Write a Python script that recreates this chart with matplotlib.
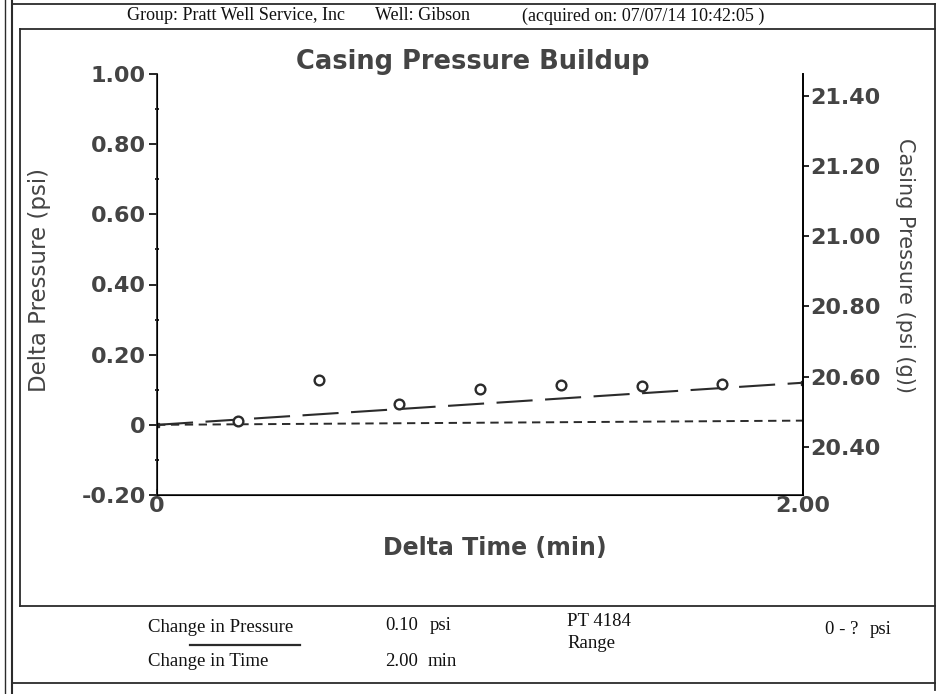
import matplotlib
matplotlib.use("Agg")
import matplotlib.pyplot as plt
from matplotlib.lines import Line2D

plt.rcParams['lines.scale_dashes'] = False

# data
delta_time = [0.25, 0.50, 0.75, 1.00, 1.25, 1.50, 1.75]
delta_pressure = [0.011, 0.127, 0.060, 0.103, 0.114, 0.111, 0.117]
trend_time = [0.0, 2.0]
trend_pressure = [0.0, 0.12]
base_time = [0.0, 2.0]
base_pressure = [0.0, 0.012]

left_ticks = [-0.20, 0, 0.20, 0.40, 0.60, 0.80, 1.00]
left_labels = ["-0.20", "0", "0.20", "0.40", "0.60", "0.80", "1.00"]
right_ticks = [20.40, 20.60, 20.80, 21.00, 21.20, 21.40]
start_pressure = 20.4625

ink = "#2b2b2b"
grey = "#444444"
W, H = 940, 694

fig = plt.figure(figsize=(9.4, 6.94), dpi=100)

def px(x, y):
    return x / W, 1 - y / H

def hline(x0, x1, y, lw=1.3):
    a = px(x0, y); b = px(x1, y)
    fig.add_artist(Line2D([a[0], b[0]], [a[1], b[1]], color=ink, lw=lw))

def vline(x, y0, y1, lw=1.3):
    a = px(x, y0); b = px(x, y1)
    fig.add_artist(Line2D([a[0], b[0]], [a[1], b[1]], color=ink, lw=lw))

# page frame
vline(5, 0, 694, 1.0)
vline(12, 0, 694, 1.5)
hline(12, 935, 4)
hline(20, 935, 29)
vline(20, 29, 606)
vline(935, 4, 690)
hline(20, 935, 606)
hline(12, 935, 683)

serif = "Liberation Serif"
hdr = dict(family=serif, fontsize=13, va="center", color="#111")
fig.text(*px(127, 16), "Group: Pratt Well Service, Inc", **hdr)
fig.text(*px(375, 16), "Well: Gibson", **hdr)
fig.text(*px(522, 16), "(acquired on: 07/07/14 10:42:05 )", **hdr)

ax = fig.add_axes([157 / W, 1 - 495 / H, (803 - 157) / W, (495 - 74) / H])
ax.plot(base_time, base_pressure, color=ink, lw=1.4, dashes=(6, 4))
ax.plot(trend_time, trend_pressure, color=ink, lw=1.5, dashes=(26, 9),
        marker="s", markersize=3.5)
ax.plot(delta_time, delta_pressure, "o", mfc="white", mec=ink, mew=1.7, markersize=7)

ax.set_xlim(0, 2.0)
ax.set_ylim(-0.20, 1.00)
ax.set_xticks([0, 2.0])
ax.set_xticklabels(["0", "2.00"])
ax.set_yticks(left_ticks)
ax.set_yticklabels(left_labels)
ax.set_yticks([-0.1, 0.1, 0.3, 0.5, 0.7, 0.9], minor=True)
ax.tick_params(axis="y", which="major", direction="out", length=6, width=1.2,
               labelsize=16, labelcolor=grey, pad=2)
ax.tick_params(axis="y", which="minor", direction="inout", length=3, width=1.2)
ax.tick_params(axis="x", direction="in", length=4, width=1.2, labelsize=16,
               labelcolor=grey, pad=1)
for t in ax.get_yticklabels() + ax.get_xticklabels():
    t.set_fontweight("bold")
    t.set_family("DejaVu Sans")
ax.spines["top"].set_visible(False)
for s in ("left", "bottom", "right"):
    ax.spines[s].set_linewidth(1.3)
    ax.spines[s].set_color(ink)

ax2 = ax.twinx()
ax2.set_ylim(start_pressure - 0.20, start_pressure + 1.00)
ax2.set_yticks(right_ticks)
ax2.set_yticklabels([f"{v:.2f}" for v in right_ticks])
ax2.tick_params(axis="y", direction="out", length=4, width=1.2, labelsize=16,
                labelcolor=grey, pad=1)
for t in ax2.get_yticklabels():
    t.set_fontweight("bold")
    t.set_family("DejaVu Sans")
ax2.spines["top"].set_visible(False)
ax2.spines["right"].set_linewidth(1.3)

fig.text(*px(473, 62), "Casing Pressure Buildup", family="DejaVu Sans",
         fontsize=18.5, fontweight="bold", color=grey, ha="center", va="center")
fig.text(*px(495, 548), "Delta Time (min)", family="DejaVu Sans",
         fontsize=17, fontweight="bold", color=grey, ha="center", va="center")
fig.text(*px(40, 280), "Delta Pressure (psi)", family="DejaVu Sans",
         fontsize=16.5, color=grey, ha="center", va="center", rotation=90)
fig.text(*px(905, 265), "Casing Pressure (psi (g))", family="DejaVu Sans",
         fontsize=15, color=grey, ha="center", va="center", rotation=270)

# footer
ftr = dict(family=serif, fontsize=13.5, va="center", color="#111")
fig.text(*px(148, 627), "Change in Pressure", **ftr)
fig.text(*px(385, 625), "0.10", **ftr)
fig.text(*px(430, 625), "psi", **ftr)
hline(190, 300, 645, 1.6)
fig.text(*px(148, 662), "Change in Time", **ftr)
fig.text(*px(385, 661), "2.00", **ftr)
fig.text(*px(428, 661), "min", **ftr)
fig.text(*px(567, 622), "PT 4184", **ftr)
fig.text(*px(567, 643), "Range", **ftr)
fig.text(*px(825, 630), "0 - ?", **ftr)
fig.text(*px(870, 630), "psi", **ftr)

fig.savefig("out.png", dpi=100)
